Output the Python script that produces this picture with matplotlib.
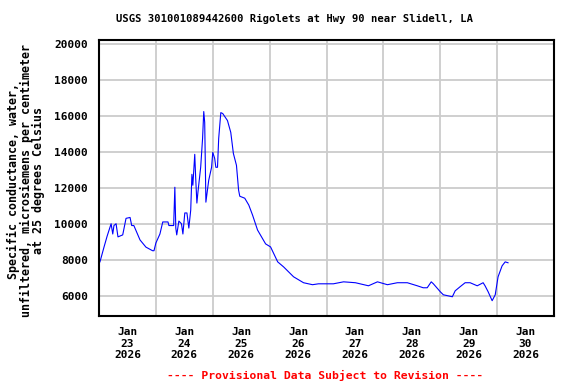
import numpy as np
import pandas as pd
import matplotlib
matplotlib.use("Agg")
import matplotlib.pyplot as plt
import matplotlib.dates as mdates

# Hours after 2026-01-23 00:00 and specific conductance (uS/cm)
hours = [0, 0.4, 2.1, 3.4, 5.1, 5.8, 6.3, 7.2, 8.0, 10.0, 11.4, 13.1, 13.8, 14.7,
         17.3, 19.8, 22.6, 23.2, 24.0, 25.7, 26.9, 29.1, 29.5, 31.5, 32.0, 32.4,
         32.8, 33.7, 34.8, 35.4, 36.2, 37.1, 37.9, 38.7, 39.2, 39.6, 40.4, 40.8,
         41.3, 41.7, 42.9, 43.7, 44.2, 44.6, 45.1, 45.8, 46.3, 47.5, 48.0, 48.8,
         49.3, 50.0, 50.5, 51.4, 52.2, 54.2, 55.6, 56.7, 58.0, 58.9, 59.4, 61.5,
         63.2, 64.8, 66.9, 70.3, 72.4, 75.4, 77.9, 82.1, 86.3, 90.1, 92.6, 98.9,
         103.2, 108.2, 113.7, 117.5, 121.7, 125.9, 130.1, 134.3, 136.8, 138.5,
         140.2, 141.1, 144.0, 145.3, 149.1, 150.3, 152.4, 154.5, 156.6, 159.6,
         162.1, 162.9, 164.2, 165.9, 167.2, 168.4, 170.1, 171.4, 172.6]
values = [7800, 7880, 8700, 9300, 10000, 9430, 9900, 10000, 9270, 9380, 10300,
          10350, 9900, 9900, 9100, 8700, 8500, 8500, 8930, 9430, 10100, 10100,
          9900, 9900, 12030, 9760, 9380, 10150, 10000, 9430, 10600, 10600, 9760,
          10760, 12750, 12140, 13860, 12530, 11150, 11700, 13140, 14740, 16240,
          15630, 11200, 11920, 12420, 13140, 13970, 13640, 13140, 13140, 14740,
          16180, 16130, 15740, 15080, 13910, 13250, 11870, 11530, 11420, 11040,
          10480, 9650, 8880, 8710, 7880, 7600, 7050, 6720, 6610, 6660, 6660,
          6770, 6720, 6550, 6770, 6610, 6720, 6720, 6550, 6440, 6440, 6770,
          6660, 6220, 6050, 5940, 6270, 6500, 6720, 6720, 6550, 6720, 6550,
          6220, 5720, 6050, 7050, 7660, 7880, 7830]

start = pd.Timestamp("2026-01-23 00:00")
times = start + pd.to_timedelta(hours, unit="h")

yticks = [6000, 8000, 10000, 12000, 14000, 16000, 18000, 20000]
days = pd.date_range("2026-01-23", "2026-01-31", freq="D")

font = "DejaVu Sans Mono"

fig = plt.figure(figsize=(5.76, 3.84), dpi=100)
ax = fig.add_axes([0.1719, 0.1771, 0.7899, 0.7188])

ax.plot(times, values, color="blue", linewidth=0.8)

ax.set_xlim(days[0], days[-1])
ax.set_ylim(4870, 20220)

# gridlines at midnight, labels at noon
ax.set_xticks(days[1:-1])
ax.set_xticks(days[:-1] + pd.Timedelta(hours=12), minor=True)
ax.set_xticklabels([])
ax.set_xticklabels([d.strftime("Jan\n%d\n%Y") for d in days[:-1]], minor=True,
                   fontfamily=font, fontweight="bold", fontsize=8, linespacing=1.2)
ax.set_yticks(yticks)
ax.set_yticklabels([str(v) for v in yticks], fontfamily=font, fontweight="bold", fontsize=8)
ax.tick_params(axis="both", which="both", length=0)
ax.tick_params(axis="y", pad=8)
ax.tick_params(axis="x", which="minor", pad=8)

ax.grid(True, color="#cccccc", linewidth=1.3)
ax.set_axisbelow(True)
for s in ax.spines.values():
    s.set_linewidth(1.5)

ax.set_ylabel("Specific conductance, water,\nunfiltered, microsiemens per centimeter\nat 25 degrees Celsius",
              fontfamily=font, fontweight="bold", fontsize=8.4, linespacing=0.97)
ax.yaxis.set_label_coords(-0.118, 0.49)

fig.text(0.512, 0.95, "USGS 301001089442600 Rigolets at Hwy 90 near Slidell, LA",
         ha="center", va="center", fontfamily=font, fontweight="bold", fontsize=7.6)
fig.text(0.565, 0.023, "---- Provisional Data Subject to Revision ----",
         ha="center", va="center", fontfamily=font, fontweight="bold", fontsize=8.2, color="red")

fig.savefig("out.png", dpi=100)
